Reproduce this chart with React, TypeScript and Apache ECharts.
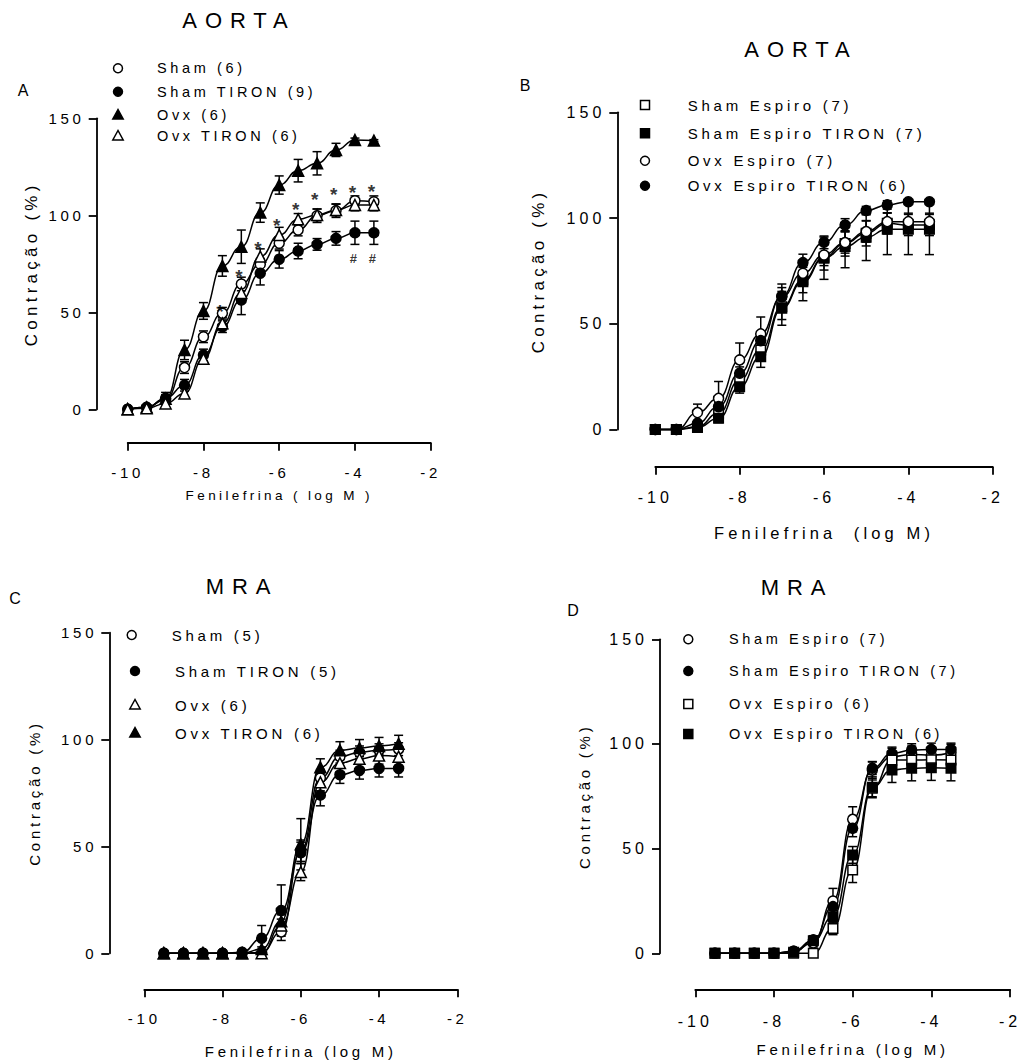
import React, { useEffect, useRef } from "react";
import * as echarts from "echarts";

const FONT = "'Liberation Sans', Arial, sans-serif";

// ---------- DATA ----------
// Panel A (AORTA)
const xA = [-10, -9.5, -9, -8.5, -8, -7.5, -7, -6.5, -6, -5.5, -5, -4.5, -4, -3.5];
const aSham = [0, 1, 5, 21.5, 37.4, 49.5, 64.6, 74.7, 85.6, 92.4, 99.8, 102.4, 107.5, 107];
const aShamErr = [0, 0.5, 1.5, 3, 3, 3, 3.5, 3, 3, 3, 3.5, 3.5, 2.5, 3];
const aShamTiron = [0, 1, 5.7, 12.4, 28, 42.6, 56.3, 70.1, 77.3, 81.6, 85, 88.1, 91, 91];
const aShamTironErr = [0, 0.5, 3, 3, 3, 3, 7.5, 6, 4.5, 4, 3, 3.5, 6, 6];
const aOvx = [0, 1, 5.5, 30.6, 50.7, 73.9, 83.8, 101.4, 115.6, 123, 126.8, 133.7, 138.8, 138.5];
const aOvxErr = [0, 0.5, 2, 5, 4.3, 5.3, 8.6, 5, 4.7, 5.8, 6, 3.4, 1, 0.5];
const aOvxTiron = [0, 0.5, 3, 8.2, 26, 44.3, 60, 78.7, 89.8, 97.9, 100.2, 102.7, 105.3, 105.3];
const aOvxTironErr = [0, 0.5, 2, 2.5, 2.5, 3, 4, 4, 4, 3, 3, 3, 3, 3];
const aStarX = [-7.5, -7, -6.5, -6, -5.5, -5, -4.5, -4, -3.5];
const aStarY = [52.9, 70.9, 85.6, 97.3, 105.7, 110.8, 113.1, 114.2, 115.1];
const aHashX = [-4, -3.5];
const aHashY = [77.8, 77.8];

// Panel B (AORTA, Espiro)
const xB = [-10, -9.5, -9, -8.5, -8, -7.5, -7, -6.5, -6, -5.5, -5, -4.5, -4, -3.5];
const bShamEsp = [0, 0, 1.3, 7.7, 23.4, 37.6, 58, 70.7, 81.4, 88, 92.8, 97.5, 96.7, 96.7];
const bShamEspErr = [0, 0, 1, 3, 4, 5, 6, 6, 6, 6, 6, 5, 5, 5];
const bShamEspTiron = [0, 0, 1, 5.3, 20.2, 34.4, 57.3, 69.9, 81, 86.5, 90.9, 94.7, 94.7, 94.7];
const bShamEspTironErr = [0, 0, 1, 2, 3, 5, 8, 9, 10, 10, 11, 12, 12, 12];
const bOvxEsp = [0, 0, 8, 14.7, 32.9, 45.2, 62.8, 73.9, 82.5, 88.4, 93.6, 98.3, 98.3, 98.3];
const bOvxEspErr = [0, 0, 4, 8, 8, 8, 6, 6, 5, 5, 5, 4, 4, 4];
const bOvxEspTiron = [0, 0, 3, 10.8, 26.6, 42, 63.1, 78.9, 88.5, 96.7, 103.5, 106.2, 107.7, 107.7];
const bOvxEspTironErr = [0, 0, 1, 2, 3, 4, 4, 4, 3, 3, 2, 2, 1, 1];

// Panel C (MRA)
const xC = [-9.5, -9, -8.5, -8, -7.5, -7, -6.5, -6, -5.5, -5, -4.5, -4, -3.5];
const cSham = [0, 0, 0, 0, 0, 0.5, 10, 48, 82, 92, 94, 95, 95.5];
const cShamErr = [0, 0, 0, 0, 0, 1, 4, 5, 4, 3, 3, 3, 3];
const cShamTiron = [0, 0, 0, 0, 0.5, 7, 20, 47, 74, 83.5, 85.5, 86.5, 86.5];
const cShamTironErr = [0, 0, 0, 0, 0.5, 6, 12, 5, 5, 4, 4, 4, 4];
const cOvx = [0, 0, 0, 0, 0, 0, 13, 38, 80, 89, 91, 92.5, 92];
const cOvxErr = [0, 0, 0, 0, 0, 1, 3, 4, 4, 4, 4, 4, 4];
const cOvxTiron = [0, 0, 0, 0, 0, 2, 15, 51, 87, 95, 96, 97, 98];
const cOvxTironErr = [0, 0, 0, 0, 0, 1, 3, 12, 4, 4, 4, 4, 4];

// Panel D (MRA, Espiro)
const xD = [-9.5, -9, -8.5, -8, -7.5, -7, -6.5, -6, -5.5, -5, -4.5, -4, -3.5];
const dShamEsp = [0, 0, 0, 0, 1, 5, 25, 64, 87.6, 93.9, 95, 94.6, 95.8];
const dShamEspErr = [0, 0, 0, 0, 1, 2, 6, 6, 4, 4, 4, 4, 4];
const dShamEspTiron = [0, 0, 0, 0, 1, 6.4, 22.3, 59.7, 88.4, 95.5, 97.1, 97.4, 97.4];
const dShamEspTironErr = [0, 0, 0, 0, 1, 2, 3, 4, 3, 3, 3, 3, 3];
const dOvxEsp = [0, 0, 0, 0, 0, 0, 11.9, 39.8, 78.8, 92.3, 92.3, 92.5, 92.3];
const dOvxEspErr = [0, 0, 0, 0, 0, 0, 3, 6, 4, 4, 4, 4, 4];
const dOvxEspTiron = [0, 0, 0, 0, 0.5, 6, 17.5, 47, 79.3, 87.6, 88.4, 88.6, 88.4];
const dOvxEspTironErr = [0, 0, 0, 0, 0.5, 2, 3, 4, 5, 6, 6, 6, 6];

const xTicks = { min: -10, max: -2, interval: 2 };
const yTicks = { min: 0, max: 150, interval: 50 };

const titles = ["AORTA", "AORTA", "MRA", "MRA"];
const letters = ["A", "B", "C", "D"];
const xNames = ["Fenilefrina ( log M )", "Fenilefrina  (log M)", "Fenilefrina (log M)", "Fenilefrina (log M)"];
const yName = "Contração (%)";

// ---------- LAYOUT ----------
const grids = [
  { left: 127.7, top: 118.3, width: 303, height: 291, xOff: 33.4, yOff: 31, tick: 15, xGap: 46, yGap: 57, xMargin: 22, xnFs: 13.5, ynFs: 17 },
  { left: 655.3, top: 112.3, width: 337.4, height: 317.2, xOff: 37.2, yOff: 38, tick: 16, xGap: 58, yGap: 70, xMargin: 23, xnFs: 16.5, ynFs: 17 },
  { left: 144.3, top: 632.7, width: 313, height: 320.6, xOff: 36, yOff: 35, tick: 15, xGap: 55, yGap: 67, xMargin: 22, xnFs: 15, ynFs: 15 },
  { left: 695.3, top: 639.3, width: 314.7, height: 314, xOff: 36, yOff: 35.3, tick: 16, xGap: 53, yGap: 68, xMargin: 24, xnFs: 15, ynFs: 15 },
];
const titlePos = [[239, 20], [801, 49], [242, 586], [797, 587]];
const letterPos = [[25, 90], [527, 85], [17, 598], [575, 610]];

type Sym = "circle" | "triangle" | "rect";
interface SeriesDef { name: string; panel: number; x: number[]; y: number[]; e: number[]; sym: Sym; filled: boolean; }

const seriesDefs: SeriesDef[] = [
  { name: "Sham (6)", panel: 0, x: xA, y: aSham, e: aShamErr, sym: "circle", filled: false },
  { name: "Sham TIRON (9)", panel: 0, x: xA, y: aShamTiron, e: aShamTironErr, sym: "circle", filled: true },
  { name: "Ovx (6)", panel: 0, x: xA, y: aOvx, e: aOvxErr, sym: "triangle", filled: true },
  { name: "Ovx TIRON (6)", panel: 0, x: xA, y: aOvxTiron, e: aOvxTironErr, sym: "triangle", filled: false },
  { name: "Sham Espiro (7)", panel: 1, x: xB, y: bShamEsp, e: bShamEspErr, sym: "rect", filled: false },
  { name: "Sham Espiro TIRON (7)", panel: 1, x: xB, y: bShamEspTiron, e: bShamEspTironErr, sym: "rect", filled: true },
  { name: "Ovx Espiro (7)", panel: 1, x: xB, y: bOvxEsp, e: bOvxEspErr, sym: "circle", filled: false },
  { name: "Ovx Espiro TIRON (6)", panel: 1, x: xB, y: bOvxEspTiron, e: bOvxEspTironErr, sym: "circle", filled: true },
  { name: "Sham (5)", panel: 2, x: xC, y: cSham, e: cShamErr, sym: "circle", filled: false },
  { name: "Sham TIRON (5)", panel: 2, x: xC, y: cShamTiron, e: cShamTironErr, sym: "circle", filled: true },
  { name: "Ovx (6)", panel: 2, x: xC, y: cOvx, e: cOvxErr, sym: "triangle", filled: false },
  { name: "Ovx TIRON (6)", panel: 2, x: xC, y: cOvxTiron, e: cOvxTironErr, sym: "triangle", filled: true },
  { name: "Sham Espiro (7)", panel: 3, x: xD, y: dShamEsp, e: dShamEspErr, sym: "circle", filled: false },
  { name: "Sham Espiro TIRON (7)", panel: 3, x: xD, y: dShamEspTiron, e: dShamEspTironErr, sym: "circle", filled: true },
  { name: "Ovx Espiro (6)", panel: 3, x: xD, y: dOvxEsp, e: dOvxEspErr, sym: "rect", filled: false },
  { name: "Ovx Espiro TIRON (6)", panel: 3, x: xD, y: dOvxEspTiron, e: dOvxEspTironErr, sym: "rect", filled: true },
];

// legend layout per panel: symbol x (per row), row y, text x (per row), font size
const legendLayout = [
  { sx: [118, 118, 118, 118], ry: [68.3, 91.7, 115, 136], tx: [157, 157, 157, 157], fs: 14.5 },
  { sx: [645, 645, 645, 645], ry: [105, 133.3, 160.7, 185.7], tx: [687.7, 687.7, 687.7, 687.7], fs: 15 },
  { sx: [131.7, 135, 135, 135], ry: [635, 671, 705, 733], tx: [171.7, 175, 175, 175], fs: 15 },
  { sx: [688.3, 688.3, 688.3, 688.3], ry: [639.3, 671, 704, 734], tx: [729, 729, 729, 729], fs: 14.5 },
];

function legendSymbol(sym: Sym, filled: boolean, cx: number, cy: number) {
  const style = { fill: filled ? "#000" : "#fff", stroke: "#000", lineWidth: 1.5 };
  if (sym === "circle") return { type: "circle", shape: { cx, cy, r: 4.5 }, style };
  if (sym === "rect") return { type: "rect", shape: { x: cx - 4.5, y: cy - 4.5, width: 9, height: 9 }, style };
  return { type: "polygon", shape: { points: [[cx, cy - 5.5], [cx - 5.2, cy + 4], [cx + 5.2, cy + 4]] }, style };
}

function buildOption() {
  const axisLine = { show: true, onZero: false, lineStyle: { color: "#000", width: 1.8 } };
  const axisTick = { show: true, length: 8, lineStyle: { color: "#000", width: 1.8 } };

  const grid = grids.map((g) => ({ left: g.left, top: g.top, width: g.width, height: g.height, containLabel: false }));
  const xAxis = grids.map((g, i) => ({
    gridIndex: i, type: "value", ...xTicks, offset: g.xOff,
    axisLine, axisTick, splitLine: { show: false },
    axisLabel: { color: "#000", fontSize: g.tick, fontFamily: FONT, margin: g.xMargin },
    name: xNames[i], nameLocation: "middle", nameGap: g.xGap,
    nameTextStyle: { color: "#000", fontSize: g.xnFs, fontFamily: FONT },
  }));
  const yAxis = grids.map((g, i) => ({
    gridIndex: i, type: "value", ...yTicks, offset: g.yOff,
    axisLine, axisTick, splitLine: { show: false },
    axisLabel: { color: "#000", fontSize: g.tick, fontFamily: FONT, margin: 12 },
    name: yName, nameLocation: "middle", nameGap: g.yGap, nameRotate: 90,
    nameTextStyle: { color: "#000", fontSize: g.ynFs, fontFamily: FONT },
  }));

  const series: any[] = [];
  seriesDefs.forEach((s) => {
    series.push({
      type: "custom", name: s.name + " SEM", xAxisIndex: s.panel, yAxisIndex: s.panel,
      data: s.x.map((x, i) => [x, s.y[i], s.e[i]]),
      encode: { x: 0, y: 1 }, z: 2, silent: true, clip: false,
      renderItem: (_p: any, api: any) => {
        const x = api.value(0), y = api.value(1), e = api.value(2);
        if (!e) return { type: "group", children: [] };
        const t = api.coord([x, y + e]);
        const b = api.coord([x, y - e]);
        const hw = 4.5;
        const st = { stroke: "#000", lineWidth: 1.5 };
        return {
          type: "group", children: [
            { type: "line", shape: { x1: t[0], y1: t[1], x2: b[0], y2: b[1] }, style: st },
            { type: "line", shape: { x1: t[0] - hw, y1: t[1], x2: t[0] + hw, y2: t[1] }, style: st },
            { type: "line", shape: { x1: b[0] - hw, y1: b[1], x2: b[0] + hw, y2: b[1] }, style: st },
          ],
        };
      },
    });
    series.push({
      type: "line", name: s.name, xAxisIndex: s.panel, yAxisIndex: s.panel,
      data: s.x.map((x, i) => [x, s.y[i]]),
      smooth: 0.5, smoothMonotone: "x", clip: false, silent: true, z: 3,
      symbol: s.sym, symbolSize: s.sym === "triangle" ? 11 : s.sym === "rect" ? 9.5 : 10,
      showSymbol: true, showAllSymbol: true,
      lineStyle: { color: "#000", width: 1.5 },
      itemStyle: { color: s.filled ? "#000" : "#fff", borderColor: "#000", borderWidth: 1.5 },
      emphasis: { disabled: true },
    });
  });

  series.push({
    type: "scatter", name: "signif *", xAxisIndex: 0, yAxisIndex: 0, z: 5, silent: true,
    data: aStarX.map((x, i) => [x, aStarY[i]]), symbolSize: 1, itemStyle: { color: "rgba(0,0,0,0)" },
    label: { show: true, position: "inside", formatter: "*", color: "#000", fontSize: 19, fontWeight: "bold", fontFamily: FONT, offset: [0, 5], textBorderWidth: 0 },
  });
  series.push({
    type: "scatter", name: "signif #", xAxisIndex: 0, yAxisIndex: 0, z: 5, silent: true,
    data: aHashX.map((x, i) => [x, aHashY[i]]), symbolSize: 1, itemStyle: { color: "rgba(0,0,0,0)" },
    label: { show: true, position: "inside", formatter: "#", color: "#000", fontSize: 13, fontWeight: "bold", fontFamily: FONT, textBorderWidth: 0 },
  });

  const graphic: any[] = [];
  titles.forEach((t, i) => {
    graphic.push({ type: "text", x: titlePos[i][0], y: titlePos[i][1], style: { text: t, fontSize: 22, fontFamily: FONT, fill: "#000", align: "center", verticalAlign: "middle" } });
    graphic.push({ type: "text", x: letterPos[i][0], y: letterPos[i][1], style: { text: letters[i], fontSize: 16, fontFamily: FONT, fill: "#000", align: "center", verticalAlign: "middle" } });
  });
  for (let p = 0; p < 4; p++) {
    const defs = seriesDefs.filter((s) => s.panel === p);
    const L = legendLayout[p];
    defs.forEach((s, r) => {
      graphic.push(legendSymbol(s.sym, s.filled, L.sx[r], L.ry[r]));
      graphic.push({ type: "text", x: L.tx[r], y: L.ry[r], style: { text: s.name, fontSize: L.fs, fontFamily: FONT, fill: "#000", align: "left", verticalAlign: "middle" } });
    });
  }

  return { animation: false, backgroundColor: "#fff", grid, xAxis, yAxis, series, graphic };
}

const css = `
.ec-wrap svg text { letter-spacing: 0.25em; }
.ec-wrap svg text[style*="22px"] { letter-spacing: 0.36em; }
`;

export default function App() {
  const ref = useRef<HTMLDivElement>(null);
  useEffect(() => {
    const chart = echarts.init(ref.current!, null, { renderer: "svg", width: 1021, height: 1063 });
    chart.setOption(buildOption() as any);
    return () => chart.dispose();
  }, []);
  return (
    <>
      <style>{css}</style>
      <div ref={ref} className="ec-wrap" style={{ position: "absolute", left: 0, top: 0, width: 1021, height: 1063, background: "#fff" }} />
    </>
  );
}
